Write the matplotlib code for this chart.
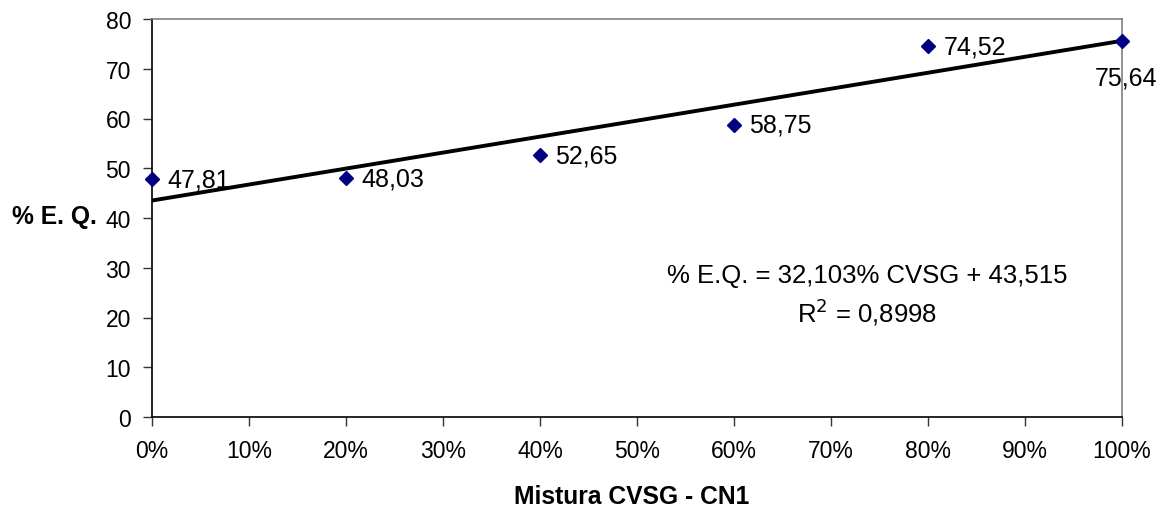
import matplotlib.pyplot as plt
from matplotlib.ticker import PercentFormatter

plt.rcParams['font.family'] = ['Liberation Sans', 'DejaVu Sans']

mistura = [0.0, 0.2, 0.4, 0.6, 0.8, 1.0]
eq = [47.81, 48.03, 52.65, 58.75, 74.52, 75.64]
rotulos = ["47,81", "48,03", "52,65", "58,75", "74,52", "75,64"]
slope = 32.103
intercept = 43.515

fig = plt.figure(figsize=(11.68, 5.10), dpi=100)
ax = fig.add_axes([152/1168, 92/510, 970/1168, 398/510])

# trendline
ax.plot([0, 1], [intercept, intercept + slope], color='black', lw=2.8, zorder=2)
ax.plot(mistura, eq, linestyle='none', marker='D', color='#000080',
        markersize=7, zorder=3, clip_on=False)

for x, y, t in zip(mistura, eq, rotulos):
    if x == 1.0:
        ax.annotate(t, (x, y), xytext=(3, -18), textcoords='offset points',
                    ha='center', va='top', fontsize=18)
    else:
        ax.annotate(t, (x, y), xytext=(11, 0), textcoords='offset points',
                    ha='left', va='center', fontsize=18)

ax.text(0.737, 28.5, "% E.Q. = 32,103% CVSG + 43,515", ha='center', va='center', fontsize=18.5)
ax.text(0.737, 21.3, "R$^2$ = 0,8998", ha='center', va='center', fontsize=18.5)

ax.set_xlim(0, 1)
ax.set_ylim(0, 80)
ax.set_xticks([i / 10 for i in range(11)])
ax.set_yticks(range(0, 81, 10))
ax.xaxis.set_major_formatter(PercentFormatter(1.0, decimals=0))
ax.tick_params(direction='out', length=6.5, width=1, colors='#333333',
               labelcolor='black', labelsize=16.5, pad=8.6)
ax.tick_params(axis='x', pad=9)

for s in ['top', 'right']:
    ax.spines[s].set_color('#808080')
    ax.spines[s].set_linewidth(1.2)
for s in ['left', 'bottom']:
    ax.spines[s].set_color('black')
    ax.spines[s].set_linewidth(1.2)

fig.text(12/1168, 1 - 217/510, "% E. Q.", ha='left', va='center',
         fontsize=17.7, fontweight='bold')
fig.text(632/1168, 1 - 497/510, "Mistura CVSG - CN1", ha='center', va='center',
         fontsize=17.7, fontweight='bold')

plt.savefig("out.png", dpi=100)
